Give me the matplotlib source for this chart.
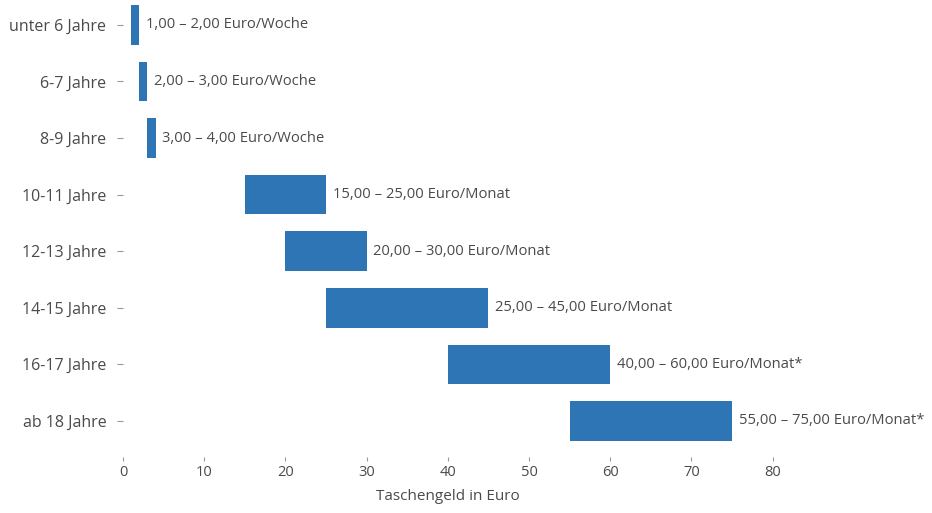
import matplotlib
matplotlib.use("Agg")
import matplotlib.pyplot as plt

categories = ["unter 6 Jahre", "6-7 Jahre", "8-9 Jahre", "10-11 Jahre",
              "12-13 Jahre", "14-15 Jahre", "16-17 Jahre", "ab 18 Jahre"]
low = [1, 2, 3, 15, 20, 25, 40, 55]
high = [2, 3, 4, 25, 30, 45, 60, 75]
units = ["Euro/Woche", "Euro/Woche", "Euro/Woche", "Euro/Monat",
         "Euro/Monat", "Euro/Monat", "Euro/Monat*", "Euro/Monat*"]
xticks = [0, 10, 20, 30, 40, 50, 60, 70, 80]

plt.rcParams['font.family'] = ['Open Sans', 'DejaVu Sans']
txt = "#4a4a4a"
fig = plt.figure(figsize=(9.32, 5.13), dpi=100)
ax = fig.add_axes([0.132, 0.109, 0.697, 0.891])

ypos = list(range(len(categories)))
widths = [h - l for l, h in zip(low, high)]
ax.barh(ypos, widths, left=low, height=0.7, color="#2e75b6")
for y, l, h, u in zip(ypos, low, high, units):
    lab = f"{l:.2f}".replace(".", ",") + " – " + f"{h:.2f}".replace(".", ",") + " " + u
    ax.text(h + 0.8, y, lab, va="center", ha="left", fontsize=10.6, color=txt, clip_on=False)

ax.set_yticks(ypos)
ax.set_yticklabels(categories, fontsize=11.5, color=txt)
ax.set_xticks(xticks)
ax.set_xticklabels([str(t) for t in xticks], fontsize=10.5, color=txt)
ax.set_xlim(0, 80)
ax.set_ylim(7.64, -0.44)
ax.set_xlabel("Taschengeld in Euro", fontsize=11, color=txt, labelpad=6)
for s in ax.spines.values():
    s.set_visible(False)
ax.tick_params(axis="y", length=4, color="#999999", pad=8)
ax.tick_params(axis="x", length=3, color="#999999", pad=3)
fig.savefig("out.png", dpi=100, facecolor="white")
